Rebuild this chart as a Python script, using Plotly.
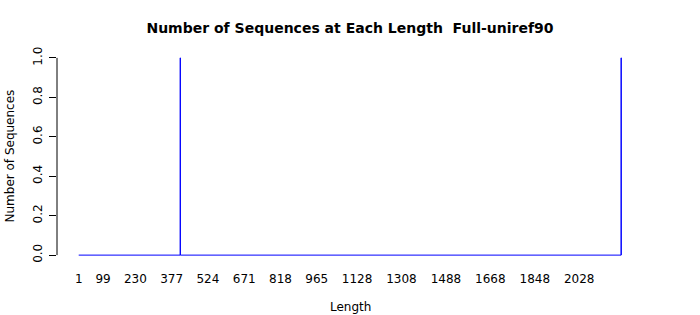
import plotly.graph_objects as go

# Data: sequence lengths (consecutive categories) and non-zero counts
length_min = 1
length_max = 2198
bar_lengths = [412, 2198]
bar_counts = [1, 1]
x_tick_labels = ["1", "99", "230", "377", "524", "671", "818", "965",
                 "1128", "1308", "1488", "1668", "1848", "2028"]
y_tick_vals = [0.0, 0.2, 0.4, 0.6, 0.8, 1.0]

# Build bar outlines (R barplot style, border only) plus zero-height baseline
half = 0.5
xs = [length_min - half]
ys = [0]
for L, c in zip(bar_lengths, bar_counts):
    xs += [L - half, L - half, L + half, L + half]
    ys += [0, c, c, 0]
xs.append(length_max + half)
ys.append(0)

fig = go.Figure()
fig.add_trace(go.Scatter(x=xs, y=ys, mode="lines",
                         line=dict(color="blue", width=1),
                         hoverinfo="skip", showlegend=False))

span = (length_max + half) - (length_min - half)
ext = span * 0.04
fig.update_layout(
    width=700, height=315,
    margin=dict(l=57, r=57, t=50, b=52),
    paper_bgcolor="white", plot_bgcolor="white",
    font=dict(family="DejaVu Sans", size=12, color="black"),
    showlegend=False,
    title=dict(text="<b>Number of Sequences at Each Length  Full-uniref90</b>",
               x=0.5, xanchor="center", y=1 - 28.5 / 315, yanchor="middle",
               yref="container", font=dict(size=14, family="DejaVu Sans")),
    xaxis=dict(range=[length_min - half - ext, length_max + half + ext],
               tickmode="array",
               tickvals=[int(t) for t in x_tick_labels],
               ticktext=x_tick_labels,
               showgrid=False, zeroline=False, showline=False,
               ticks="", ticklabelstandoff=7,
               tickfont=dict(size=12)),
    yaxis=dict(range=[-0.04, 1.04], tickmode="array",
               tickvals=y_tick_vals,
               ticktext=[f"{v:.1f}" for v in y_tick_vals],
               showgrid=False, zeroline=False, showline=False,
               ticks="outside", ticklen=7, tickcolor="black", tickwidth=1,
               tickangle=-90, ticklabelstandoff=2,
               tickfont=dict(size=12)),
    annotations=[
        dict(text="Length", xref="paper", yref="paper", x=0.5, y=-(307 - 263) / 213,
             xanchor="center", yanchor="middle", showarrow=False,
             font=dict(size=12)),
        dict(text="Number of Sequences", xref="paper", yref="paper",
             x=-(57 - 9) / 586, y=0.5, xanchor="center", yanchor="middle",
             textangle=-90, showarrow=False, font=dict(size=12)),
    ],
    shapes=[dict(type="line", xref="paper", x0=0, x1=0, yref="y",
                 y0=y_tick_vals[0], y1=y_tick_vals[-1],
                 line=dict(color="black", width=1))],
)

fig.write_html("out.html")
